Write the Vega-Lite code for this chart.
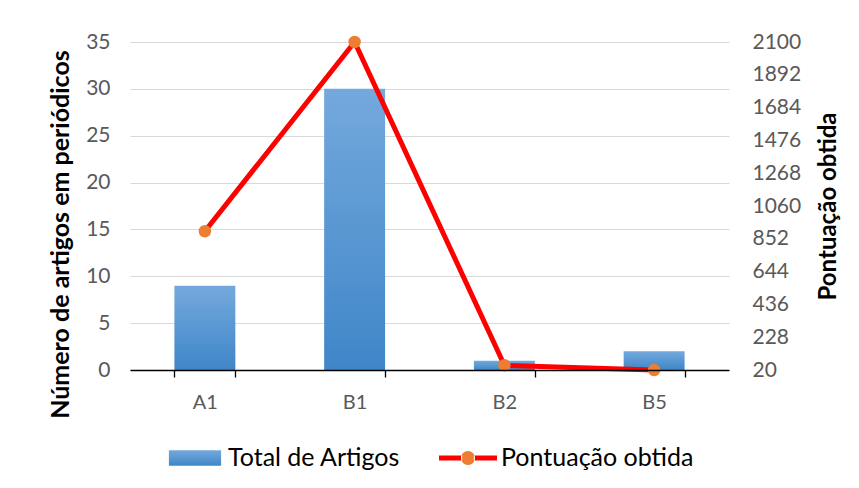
{
  "$schema": "https://vega.github.io/schema/vega-lite/v6.json",
  "width": 599,
  "height": 328,
  "autosize": "none",
  "padding": {"left": 130, "top": 42, "right": 130, "bottom": 118},
  "background": "white",
  "config": {
    "font": "Lato",
    "view": {"stroke": null},
    "axis": {"labelFont": "Lato", "titleFont": "Lato"},
    "legend": {"labelFont": "Lato", "layout": {"bottom": {"anchor": "middle"}}}
  },
  "data": {
    "values": [
      {"cat": "A1", "artigos": 9, "pontuacao": 900},
      {"cat": "B1", "artigos": 30, "pontuacao": 2100},
      {"cat": "B2", "artigos": 1, "pontuacao": 50},
      {"cat": "B5", "artigos": 2, "pontuacao": 20}
    ]
  },
  "encoding": {
    "x": {
      "field": "cat",
      "type": "nominal",
      "sort": null,
      "scale": {"paddingInner": 0.593, "paddingOuter": 0.2965},
      "axis": {
        "title": null,
        "labelAngle": 0,
        "labelFontSize": 20,
        "labelColor": "#595959",
        "domainColor": "#000000",
        "domainWidth": 1.3,
        "tickColor": "#000000",
        "tickWidth": 1.3,
        "tickBand": "extent",
        "tickSize": 7,
        "labelPadding": 15,
        "grid": false,
        "zindex": 1
      }
    }
  },
  "layer": [
    {
      "mark": {"type": "bar", "strokeWidth": 0},
      "encoding": {
        "y": {
          "field": "artigos",
          "type": "quantitative",
          "scale": {"domain": [0, 35], "nice": false, "zero": true},
          "axis": {
            "title": "Número de artigos em periódicos",
            "titleFontSize": 25,
            "titleFontWeight": "bold",
            "titleColor": "#000000",
            "titleY": 192,
            "labelFontSize": 21,
            "labelColor": "#595959",
            "values": [0, 5, 10, 15, 20, 25, 30, 35],
            "ticks": false,
            "domain": false,
            "labelPadding": 20,
            "titlePadding": 12,
            "gridColor": "#d9d9d9",
            "gridWidth": 1.2
          }
        },
        "fill": {
          "datum": "Total de Artigos",
          "type": "nominal",
          "scale": {
            "domain": ["Total de Artigos", "Pontuação obtida"],
            "range": [
              {"expr": "{gradient:'linear',x1:0,y1:0,x2:0,y2:1,stops:[{offset:0,color:'#74a9dd'},{offset:1,color:'#3f86c8'}]}"},
              {"expr": "{gradient:'linear',x1:0,y1:0,x2:1,y2:0,stops:[{offset:0,color:'#ff0000'},{offset:0.38,color:'#ff0000'},{offset:0.38,color:'#ed7d31'},{offset:0.62,color:'#ed7d31'},{offset:0.62,color:'#ff0000'},{offset:1,color:'#ff0000'}]}"}
            ]
          },
          "legend": {
            "orient": "bottom",
            "direction": "horizontal",
            "title": null,
            "labelFontSize": 25,
            "labelColor": "#000000",
            "labelLimit": 0,
            "offset": 17,
            "columnPadding": 38,
            "labelOffset": 4,
            "symbolSize": 3364,
            "symbolStrokeWidth": 0,
            "symbolOpacity": 1,
            "symbolType": {"expr": "datum.value === 'Total de Artigos' ? 'M-0.9,-0.27H0.9V0.27H-0.9Z' : 'M-1,-0.086H-0.2V0.086H-1Z M0.2,-0.086H1V0.086H0.2Z M-0.24,0 A0.24,0.24 0 1,0 0.24,0 A0.24,0.24 0 1,0 -0.24,0 Z'"}
          }
        }
      }
    },
    {
      "encoding": {
        "y": {
          "field": "pontuacao",
          "type": "quantitative",
          "scale": {"domain": [20, 2100], "nice": false, "zero": false},
          "axis": {
            "orient": "right",
            "title": "Pontuação obtida",
            "titleAngle": 270,
            "titleFontSize": 24,
            "titleFontWeight": "bold",
            "titleColor": "#000000",
            "labelFontSize": 21,
            "labelColor": "#595959",
            "format": "d",
            "values": [20, 228, 436, 644, 852, 1060, 1268, 1476, 1684, 1892, 2100],
            "ticks": false,
            "domain": false,
            "labelPadding": 23,
            "titlePadding": 40,
            "gridColor": "#d9d9d9",
            "gridWidth": 1.2
          }
        }
      },
      "layer": [
        {
          "mark": {"type": "line", "stroke": "#ff0000", "strokeWidth": 5, "strokeJoin": "round", "strokeCap": "round"},
          "encoding": {}
        },
        {
          "mark": {"type": "point", "filled": true, "fill": "#ed7d31", "size": 155, "opacity": 1, "strokeWidth": 0},
          "encoding": {}
        }
      ]
    }
  ],
  "resolve": {"scale": {"y": "independent"}}
}
